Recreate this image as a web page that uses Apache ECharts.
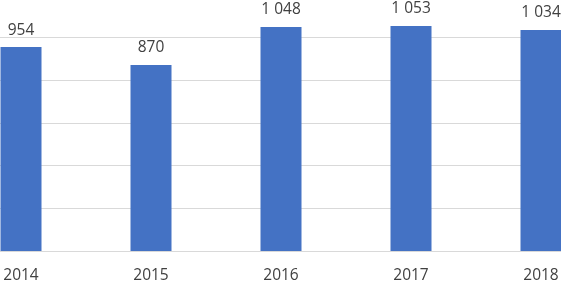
<!DOCTYPE html>
<html><head><meta charset="utf-8">
<script src="https://cdn.jsdelivr.net/npm/echarts@6/dist/echarts.min.js"></script>
<style>html,body{margin:0;padding:0;background:#fff;overflow:hidden;width:561px;height:284px;position:relative}
#c{position:absolute;left:-44px;top:-6px;width:650px;height:290px}</style>
</head><body><div id="c"></div>
<script>
const categories = ['2014', '2015', '2016', '2017', '2018'];
const values = [954, 870, 1048, 1053, 1034];
const yMin = 0, yMax = 1200, yInterval = 200;

function fmt(v) {
  return String(v).replace(/\B(?=(\d{3})+(?!\d))/g, ' ');
}

const chart = echarts.init(document.getElementById('c'), null, {renderer: 'canvas'});
chart.setOption({
  animation: false,
  grid: {left: 0, right: 0, top: 0.5, bottom: 31.5, containLabel: false},
  xAxis: {
    type: 'category',
    data: categories,
    axisLine: {lineStyle: {color: '#d9d9d9', width: 1}},
    axisTick: {show: false},
    axisLabel: {color: '#404040', fontFamily: 'Open Sans', fontSize: 15.5, margin: 17}
  },
  yAxis: {
    type: 'value', min: yMin, max: yMax, interval: yInterval,
    axisLabel: {show: false},
    axisLine: {show: false}, axisTick: {show: false},
    splitLine: {lineStyle: {color: '#d9d9d9', width: 1}}
  },
  series: [{
    type: 'bar',
    data: values,
    barWidth: 41,
    itemStyle: {color: '#4472C4'},
    label: {
      show: true, position: 'top', distance: 9,
      color: '#404040', fontFamily: 'Open Sans', fontSize: 15.5,
      formatter: p => fmt(p.value)
    }
  }]
});
</script></body></html>
